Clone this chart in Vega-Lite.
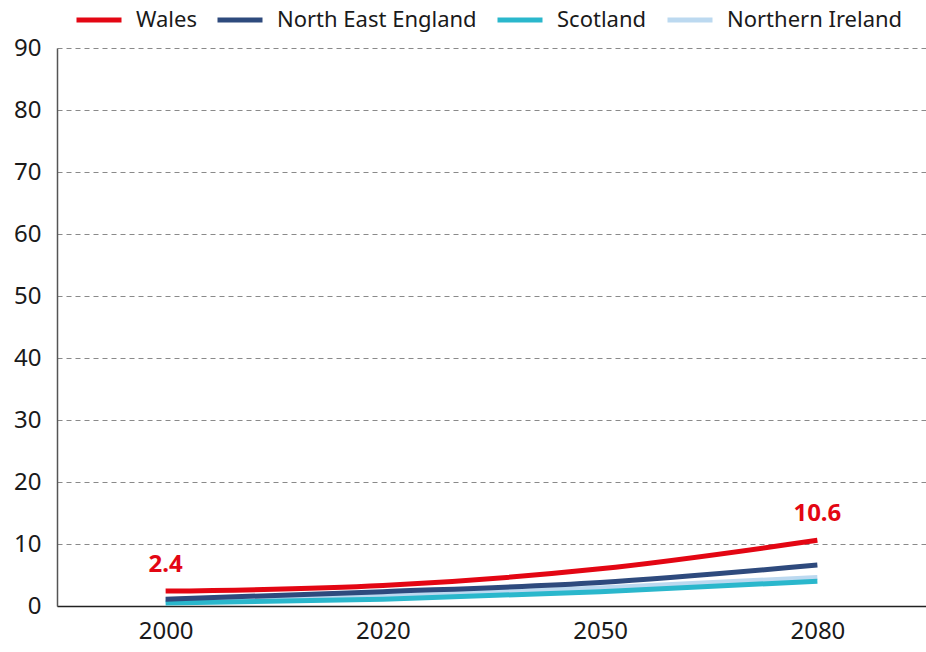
{
  "$schema": "https://vega.github.io/schema/vega-lite/v6.json",
  "width": 869,
  "height": 558,
  "autosize": {"type": "none"},
  "padding": {"left": 57, "top": 48, "right": 0, "bottom": 46},
  "background": "white",
  "config": {
    "view": {"stroke": null},
    "font": "Noto Sans"
  },
  "data": {
    "values": [
      {"region": "Northern Ireland", "year": "2000", "value": 0.8},
      {"region": "Northern Ireland", "year": "2020", "value": 1.6},
      {"region": "Northern Ireland", "year": "2050", "value": 2.9},
      {"region": "Northern Ireland", "year": "2080", "value": 4.6},
      {"region": "Scotland", "year": "2000", "value": 0.5},
      {"region": "Scotland", "year": "2020", "value": 1.1},
      {"region": "Scotland", "year": "2050", "value": 2.3},
      {"region": "Scotland", "year": "2080", "value": 4.0},
      {"region": "North East England", "year": "2000", "value": 1.1},
      {"region": "North East England", "year": "2020", "value": 2.3},
      {"region": "North East England", "year": "2050", "value": 3.8},
      {"region": "North East England", "year": "2080", "value": 6.6},
      {"region": "Wales", "year": "2000", "value": 2.4},
      {"region": "Wales", "year": "2020", "value": 3.3},
      {"region": "Wales", "year": "2050", "value": 6.0},
      {"region": "Wales", "year": "2080", "value": 10.6}
    ]
  },
  "encoding": {
    "x": {
      "field": "year",
      "type": "ordinal",
      "scale": {"type": "point", "padding": 0.5},
      "sort": ["2000", "2020", "2050", "2080"],
      "axis": {
        "title": null,
        "labelAngle": 0,
        "labelFontSize": 24,
        "labelColor": "#1a1a1a",
        "labelPadding": 13,
        "ticks": false,
        "domainColor": "#222222",
        "domainWidth": 1.5,
        "grid": false
      }
    },
    "y": {
      "field": "value",
      "type": "quantitative",
      "scale": {"domain": [0, 90], "nice": false},
      "axis": {
        "title": null,
        "values": [0, 10, 20, 30, 40, 50, 60, 70, 80, 90],
        "labelFontSize": 24,
        "labelColor": "#1a1a1a",
        "labelPadding": 16,
        "ticks": false,
        "domainColor": "#555555",
        "domainWidth": 1.5,
        "grid": true,
        "gridColor": "#8a8a8a",
        "gridDash": [5, 4],
        "gridWidth": 1.2
      }
    }
  },
  "layer": [
    {
      "mark": {"type": "line", "strokeWidth": 5, "interpolate": "monotone"},
      "encoding": {
        "color": {
          "field": "region",
          "type": "nominal",
          "scale": {
            "domain": ["Wales", "North East England", "Scotland", "Northern Ireland"],
            "range": ["#e30613", "#2e4a7d", "#2ab7cc", "#bcd9f0"]
          },
          "legend": {
            "title": null,
            "orient": "none",
            "direction": "horizontal",
            "legendX": 17,
            "legendY": -53,
            "symbolType": "stroke",
            "symbolSize": 2025,
            "symbolStrokeWidth": 5,
            "labelFontSize": 22,
            "labelFont": "Noto Sans",
            "labelColor": "#1a1a1a",
            "labelOffset": 12,
            "columnPadding": 10,
            "labelLimit": 400
          }
        }
      }
    },
    {
      "transform": [
        {"filter": "datum.region === 'Wales' && (datum.year === '2000' || datum.year === '2080')"}
      ],
      "mark": {
        "type": "text",
        "fontSize": 24,
        "fontWeight": "bold",
        "color": "#e30613",
        "dy": -26,
        "baseline": "middle"
      },
      "encoding": {
        "text": {"field": "value", "type": "quantitative", "format": ".1f"}
      }
    }
  ]
}
